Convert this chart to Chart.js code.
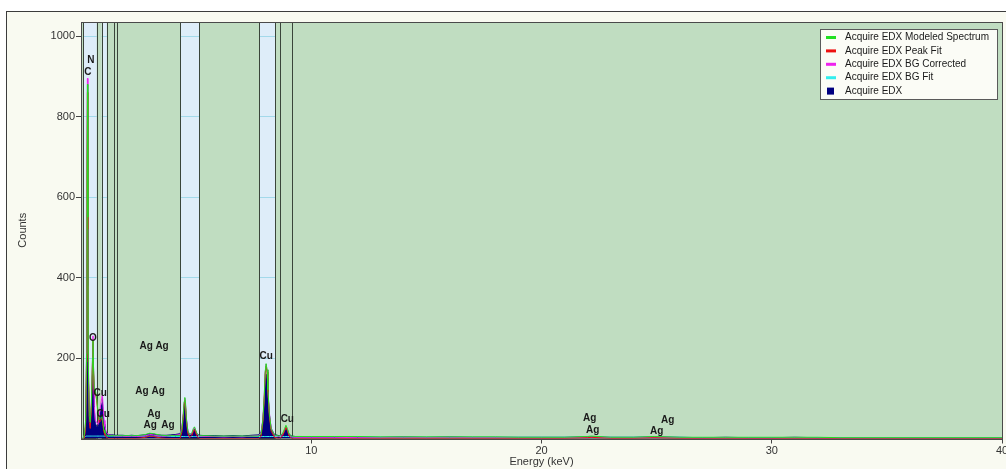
<!DOCTYPE html>
<html>
<head>
<meta charset="utf-8">
<title>EDX spectrum</title>
<script src="https://cdn.jsdelivr.net/npm/chart.js@4.4.0/dist/chart.umd.min.js"></script>
<style>
  html, body { margin: 0; padding: 0; background: #fff; }
  #wrap { width: 1006px; height: 469px; }
</style>
</head>
<body>
<div id="wrap"><canvas id="edxChart" width="1006" height="469"></canvas></div>
<script>
// energy axis (keV) - denser around the peaks
const energy = [
  0.00, 0.05, 0.10, 0.15, 0.20, 0.24, 0.26, 0.28, 0.30, 0.32, 0.36, 0.40, 0.45, 0.50, 0.52, 0.54, 0.58,
  0.62, 0.68, 0.74, 0.80, 0.86, 0.90, 0.93, 0.96, 1.00, 1.04, 1.10, 1.20, 1.30, 1.40, 1.50, 1.60,
  1.80, 2.00, 2.20, 2.40, 2.60, 2.80, 2.98, 3.15, 3.30, 3.50, 3.70, 3.90, 4.10,
  4.30, 4.38, 4.44, 4.48, 4.51, 4.54, 4.58, 4.64, 4.72, 4.82, 4.88, 4.93, 4.98, 5.05, 5.15,
  5.40, 5.80, 6.20, 6.60, 7.00, 7.40, 7.70,
  7.82, 7.90, 7.96, 8.00, 8.04, 8.08, 8.12, 8.18, 8.26, 8.40, 8.60, 8.75, 8.84, 8.90, 8.96, 9.04, 9.15,
  9.30, 9.60, 10, 11, 12, 13, 14, 15, 16, 17, 18, 19, 20, 21, 22, 22.16, 23, 24, 24.9, 26, 27, 28, 29,
  30, 31, 32, 33, 34, 35, 36, 37, 38, 39, 40
];

const modeled = [
  0, 0, 1, 10, 45, 210, 660, 880, 550, 180, 55, 40, 85, 200, 245, 185, 120,
  122, 100, 66, 46, 50, 56, 50, 36, 21, 14, 9, 7, 7, 7, 7, 7,
  7, 7, 7, 7, 8, 10, 13, 12, 10, 8, 7, 7, 7,
  7, 22, 57, 92, 102, 87, 47, 19, 9, 15, 25, 29, 21, 11, 7,
  7, 6, 6, 6, 6, 6, 6,
  11, 46, 106, 166, 186, 171, 121, 61, 24, 9, 6, 12, 24, 33, 25, 11, 6,
  5, 5, 5, 5, 5, 4, 4, 4, 4, 4, 4, 3, 3, 3, 5, 6, 3, 3, 5, 3, 3, 3, 3,
  3, 3, 3, 2, 2, 2, 2, 2, 2, 2, 2
];

const peakFit = [
  0, 0, 0, 2, 30, 190, 640, 860, 520, 160, 40, 25, 70, 190, 245, 175, 110,
  115, 95, 60, 40, 45, 50, 45, 30, 15, 8, 3, 0, 0, 0, 0, 0,
  0, 0, 0, 0, 1, 3, 6, 5, 3, 1, 0, 0, 0,
  0, 15, 50, 85, 95, 80, 40, 12, 2, 8, 18, 22, 14, 4, 0,
  0, 0, 0, 0, 0, 0, 0,
  5, 40, 100, 160, 180, 165, 115, 55, 18, 3, 0, 6, 18, 28, 20, 6, 0,
  0, 0, 0, 0, 0, 0, 0, 0, 0, 0, 0, 0, 0, 0, 2, 3, 0, 0, 2, 0, 0, 0, 0,
  0, 0, 0, 0, 0, 0, 0, 0, 0, 0, 0
];

const bgCorrected = [
  0, 0, 1, 8, 40, 200, 700, 895, 520, 180, 70, 50, 90, 200, 255, 190, 80,
  45, 40, 35, 60, 85, 100, 110, 80, 45, 30, 15, 9, 8, 7, 6, 6,
  6, 5, 6, 5, 6, 7, 10, 9, 7, 6, 6, 7, 8,
  10, 28, 62, 90, 100, 85, 50, 20, 9, 12, 22, 28, 20, 10, 6,
  5, 5, 4, 5, 4, 6, 7,
  14, 50, 110, 165, 185, 170, 120, 65, 25, 8, 5, 10, 20, 31, 24, 9, 4,
  3, 3, 3, 3, 2, 2, 3, 2, 3, 2, 2, 2, 2, 2, 3, 3, 2, 2, 3, 2, 1, 2, 1,
  1, 2, 1, 1, 1, 1, 1, 1, 1, 1, 1
];

const bgFit = [
  0, 0, 1, 3, 5, 6, 6, 6, 6, 6, 6, 6, 6, 6, 6, 6, 6,
  6, 6, 6, 6, 6, 6, 6, 6, 6, 6, 6, 6, 6, 6, 6, 6,
  6, 6, 6, 6, 6, 6, 6, 6, 6, 6, 6, 5, 5,
  5, 5, 5, 5, 5, 5, 5, 5, 5, 5, 5, 5, 5, 5, 5,
  5, 5, 5, 5, 5, 5, 5,
  5, 5, 5, 5, 5, 5, 5, 5, 5, 5, 5, 5, 5, 5, 5, 5, 4,
  4, 4, 4, 4, 4, 3, 3, 3, 3, 3, 3, 3, 3, 3, 3, 3, 3, 3, 3, 3, 2, 2, 2,
  2, 2, 2, 2, 2, 2, 2, 2, 2, 2, 2
];

const acquired = [
  0, 0, 1, 6, 30, 140, 420, 560, 380, 150, 60, 45, 70, 160, 235, 170, 70,
  38, 30, 28, 45, 70, 85, 90, 65, 35, 25, 14, 10, 9, 9, 8, 8,
  8, 7, 8, 7, 8, 9, 12, 11, 9, 8, 8, 9, 10,
  12, 25, 55, 80, 88, 75, 45, 18, 10, 12, 20, 24, 18, 10, 8,
  7, 7, 6, 7, 6, 8, 9,
  15, 45, 95, 140, 160, 150, 110, 60, 25, 10, 7, 10, 18, 28, 22, 10, 6,
  5, 5, 4, 4, 4, 3, 4, 3, 4, 3, 3, 3, 3, 3, 4, 4, 3, 3, 4, 3, 2, 3, 2,
  2, 3, 2, 2, 2, 2, 2, 2, 2, 2, 2
];

// element windows (keV) and whether they are highlighted
const roiStart = [0.10, 0.68, 0.90, 1.12, 1.43, 4.30, 7.74, 8.65];
const roiEnd   = [0.68, 0.90, 1.12, 1.43, 1.58, 5.13, 8.43, 9.17];
const roiBlue  = [true, false, true, false, false, true, true, false];

// peak markers: element, energy (keV), label height (counts)
const markerName = ['N', 'C', 'O', 'Cu', 'Cu', 'Ag', 'Ag', 'Ag', 'Ag', 'Ag', 'Ag', 'Ag', 'Cu', 'Cu', 'Ag', 'Ag', 'Ag', 'Ag'];
const markerKeV  = [0.43, 0.30, 0.52, 0.83, 0.96, 2.83, 3.52, 2.65, 3.35, 3.17, 3.00, 3.78, 8.04, 8.96, 22.09, 22.22, 25.0, 25.48];
const markerAt   = [940, 910, 250, 113, 61, 228, 228, 118, 118, 61, 34, 34, 205, 48, 51, 21, 19, 46];

const seriesNames  = ['Acquire EDX Modeled Spectrum', 'Acquire EDX Peak Fit', 'Acquire EDX BG Corrected', 'Acquire EDX BG Fit', 'Acquire EDX'];
const seriesColors = ['#22e022', '#ee1111', '#ee22ee', '#33eeee', '#000080'];

const xTicks = [10, 20, 30, 40];
const yTicks = [200, 400, 600, 800, 1000];

function points(values) {
  return energy.map((e, i) => ({ x: e, y: values[i] }));
}

function plotFrame(ctx, a) {
  ctx.strokeStyle = '#4a4a4a';
  ctx.lineWidth = 1;
  ctx.strokeRect(Math.round(a.left) + 0.5, Math.round(a.top) + 0.5, Math.round(a.width), Math.round(a.height));
}

const edxPanel = {
  id: 'edxPanel',
  beforeDraw(chart) {
    const { ctx, chartArea: a } = chart;
    ctx.save();
    ctx.fillStyle = '#ffffff';
    ctx.fillRect(0, 0, chart.width, chart.height);
    ctx.fillStyle = '#f9faf1';
    ctx.fillRect(6.5, 11.5, chart.width, chart.height);
    ctx.strokeStyle = '#3c3c3c';
    ctx.lineWidth = 1;
    ctx.strokeRect(6.5, 11.5, chart.width, chart.height);
    ctx.fillStyle = '#deedf9';
    ctx.fillRect(a.left, a.top, a.width, a.height);
    ctx.restore();
  },
  beforeDatasetsDraw(chart) {
    const { ctx, chartArea: a } = chart;
    const xs = chart.scales.x;
    ctx.save();
    // green everywhere except the highlighted windows
    ctx.beginPath();
    ctx.rect(a.left, a.top, a.width, a.height);
    roiStart.forEach((s, i) => {
      if (!roiBlue[i]) return;
      const x1 = xs.getPixelForValue(s), x2 = xs.getPixelForValue(roiEnd[i]);
      ctx.rect(x1, a.top, x2 - x1, a.height);
    });
    ctx.fillStyle = '#c0ddc1';
    ctx.fill('evenodd');
    // window borders
    ctx.strokeStyle = '#3a453a';
    ctx.lineWidth = 1;
    roiStart.forEach((s, i) => {
      [s, roiEnd[i]].forEach(v => {
        const px = Math.round(xs.getPixelForValue(v)) + 0.5;
        ctx.beginPath();
        ctx.moveTo(px, a.top);
        ctx.lineTo(px, a.bottom);
        ctx.stroke();
      });
    });
    plotFrame(ctx, a);
    ctx.restore();
  },
  afterDatasetsDraw(chart) {
    const { ctx, chartArea: a } = chart;
    const xs = chart.scales.x, ys = chart.scales.y;
    ctx.save();
    plotFrame(ctx, a);
    ctx.fillStyle = '#1a1a1a';
    ctx.font = 'bold 10px Arial, "Liberation Sans", sans-serif';
    ctx.textAlign = 'center';
    ctx.textBaseline = 'middle';
    markerName.forEach((m, i) => {
      ctx.fillText(m, xs.getPixelForValue(markerKeV[i]), ys.getPixelForValue(markerAt[i]));
    });

    // legend box
    const bx = 820.5, by = 29.5, bw = 177, bh = 70;
    ctx.fillStyle = '#fbfcf6';
    ctx.fillRect(bx, by, bw, bh);
    ctx.strokeStyle = '#5a5a5a';
    ctx.strokeRect(bx, by, bw, bh);
    ctx.font = '10px Arial, "Liberation Sans", sans-serif';
    ctx.textAlign = 'left';
    seriesNames.forEach((name, i) => {
      const y = 37 + i * 13.4;
      ctx.fillStyle = seriesColors[i];
      if (i === seriesNames.length - 1) {
        ctx.fillRect(827, y - 3, 7, 7);
      } else {
        ctx.fillRect(826, y - 1, 10, 3);
      }
      ctx.fillStyle = '#1a1a1a';
      ctx.fillText(name, 845, y + 0.5);
    });
    ctx.restore();
  }
};

function lineSet(label, values, color, fill) {
  return {
    label: label,
    data: points(values),
    borderColor: color,
    backgroundColor: color,
    borderWidth: 1,
    pointRadius: 0,
    tension: 0,
    fill: fill ? 'origin' : false
  };
}

new Chart(document.getElementById('edxChart'), {
  type: 'line',
  data: {
    datasets: [
      lineSet(seriesNames[0], modeled, seriesColors[0], false),
      lineSet(seriesNames[1], peakFit, seriesColors[1], false),
      lineSet(seriesNames[2], bgCorrected, seriesColors[2], false),
      lineSet(seriesNames[3], bgFit, seriesColors[3], false),
      lineSet(seriesNames[4], acquired, seriesColors[4], true)
    ]
  },
  options: {
    responsive: false,
    animation: false,
    devicePixelRatio: 1,
    layout: { padding: { top: 22, right: 4, left: 0, bottom: 0 } },
    plugins: {
      legend: { display: false },
      tooltip: { enabled: false }
    },
    scales: {
      x: {
        type: 'linear',
        min: 0,
        max: 40,
        afterFit(scale) {
          scale.height = 30.5;
          scale.paddingLeft = 0;
          scale.paddingRight = 0;
        },
        afterBuildTicks(scale) { scale.ticks = xTicks.map(v => ({ value: v })); },
        ticks: {
          color: '#333',
          font: { family: 'Arial, "Liberation Sans", sans-serif', size: 11 },
          padding: 1,
          maxRotation: 0,
          callback: v => String(v)
        },
        grid: { drawOnChartArea: false, tickColor: '#444', tickLength: 5 },
        border: { color: '#444' },
        title: {
          display: true,
          text: 'Energy (keV)',
          color: '#333',
          font: { family: 'Arial, "Liberation Sans", sans-serif', size: 11 },
          padding: { top: 0, bottom: 0 }
        }
      },
      y: {
        min: 0,
        max: 1035,
        afterFit(scale) { scale.width = 81; },
        afterBuildTicks(scale) { scale.ticks = yTicks.map(v => ({ value: v })); },
        ticks: {
          color: '#333',
          font: { family: 'Arial, "Liberation Sans", sans-serif', size: 11 },
          padding: 1,
          callback: v => String(v)
        },
        grid: { color: '#a3d9ea', lineWidth: 1, tickColor: '#444', tickLength: 5 },
        border: { color: '#444' },
        title: {
          display: true,
          text: 'Counts',
          color: '#333',
          font: { family: 'Arial, "Liberation Sans", sans-serif', size: 11 },
          padding: { top: 16, bottom: 0 }
        }
      }
    }
  },
  plugins: [edxPanel]
});
</script>
</body>
</html>
